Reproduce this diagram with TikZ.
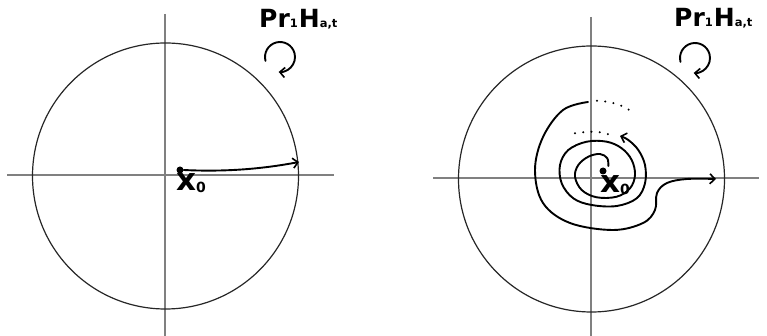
\documentclass[tikz,border=0pt]{standalone}
\usepackage{fontspec}
\newfontfamily\dvs{DejaVu Sans}
\usetikzlibrary{arrows.meta}
\tikzset{
  axis/.style={draw=black!50, line width=1.4pt},
  rim/.style={draw=black!85, line width=1.2pt},
  curvepath/.style={line width=1.9pt, line cap=round, line join=round},
  tip/.style={-{Straight Barb[length=5pt,width=10pt,line width=1.6pt]}},
  dotrow/.style={line width=2.2pt, line cap=round, dash pattern=on 0pt off 8.3pt},
  ptdot/.style={circle, fill=black, inner sep=0pt, minimum size=7pt},
  biglab/.style={inner sep=0pt, anchor=base west, font=\dvs\bfseries\fontsize{25}{25}\selectfont},
  xlab/.style={inner sep=0pt, anchor=base west, font=\dvs\bfseries\fontsize{31}{31}\selectfont},
}
\newcommand{\smalltxt}[1]{{\fontsize{11.5}{11.5}\selectfont #1}}
\newcommand{\subzero}{\raisebox{-2pt}{\fontsize{14}{14}\selectfont 0}}
\begin{document}
\begin{tikzpicture}[x=1pt,y=-1pt]
\useasboundingbox (0,0) rectangle (767,336);
% ---------- left panel ----------
\draw[axis] (7,175) -- (334,175);
\draw[axis] (165,14) -- (165,336);
\draw[rim] (165.5,176) circle[radius=133pt];
\node[biglab] (labL) at (259,28) {Pr\smalltxt{1}\hspace{1pt}H\smalltxt{a,t}};
\draw[curvepath, tip] (280,57) ++(195:15pt) arc[start angle=195, end angle=-95, radius=15pt];
\node[ptdot] (x0L) at (180,170) {};
\node[xlab] (xl) at (176,191) {x\subzero};
\coordinate (eL) at (299,162);
\draw[curvepath, tip] (x0L.east) .. controls (225,172) and (262,169) .. (eL);
% ---------- right panel ----------
\draw[axis] (433,178) -- (759,178);
\draw[axis] (591,17) -- (591,336);
\draw[rim] (591.5,179) circle[radius=133pt];
\node[biglab] (labR) at (674,27) {Pr\smalltxt{1}\hspace{1pt}H\smalltxt{a,t}};
\draw[curvepath, tip] (695,58) ++(195:15pt) arc[start angle=195, end angle=-95, radius=15pt];
\node[ptdot] (x0R) at (603,171) {};
\node[xlab] (xr) at (600,193) {x\subzero};
% spiral
\draw[curvepath, tip] plot[smooth, tension=0.6] coordinates {
 (608.3,166) (607.3,158.3) (600,154) (588.3,156.7) (578.3,165) (575,176.7)
 (581.7,190) (596.7,197.3) (616.7,196.7) (630,188.3) (635,175) (631.7,160)
 (621.7,148.3) (606.7,141.7) (586.7,141.7) (568.3,150) (560,165) (561.7,183.3)
 (573.3,198.3) (591.7,205) (616.7,206) (636.7,198.3) (645,183.3) (645,165)
 (638.3,150) (628.3,140) (620,136)};
\draw[dotrow] plot[smooth] coordinates {(575,133.3) (583.3,132.3) (591.7,131.7) (600,132.3) (608.3,134.3)};
% outer curve
\coordinate (eR) at (716,179);
\draw[curvepath, tip] plot[smooth, tension=0.6] coordinates {
 (588,102) (563,110) (543,137) (535,170) (543,203) (570,223) (613,230)
 (643,223) (655,210) (657,193) (667,183) (687,179) (716,179)};
\draw[dotrow] plot[smooth] coordinates {(597,100.7) (606.7,101.7) (616.7,104) (626.7,108.3) (635,114.3)};
\end{tikzpicture}
\end{document}
